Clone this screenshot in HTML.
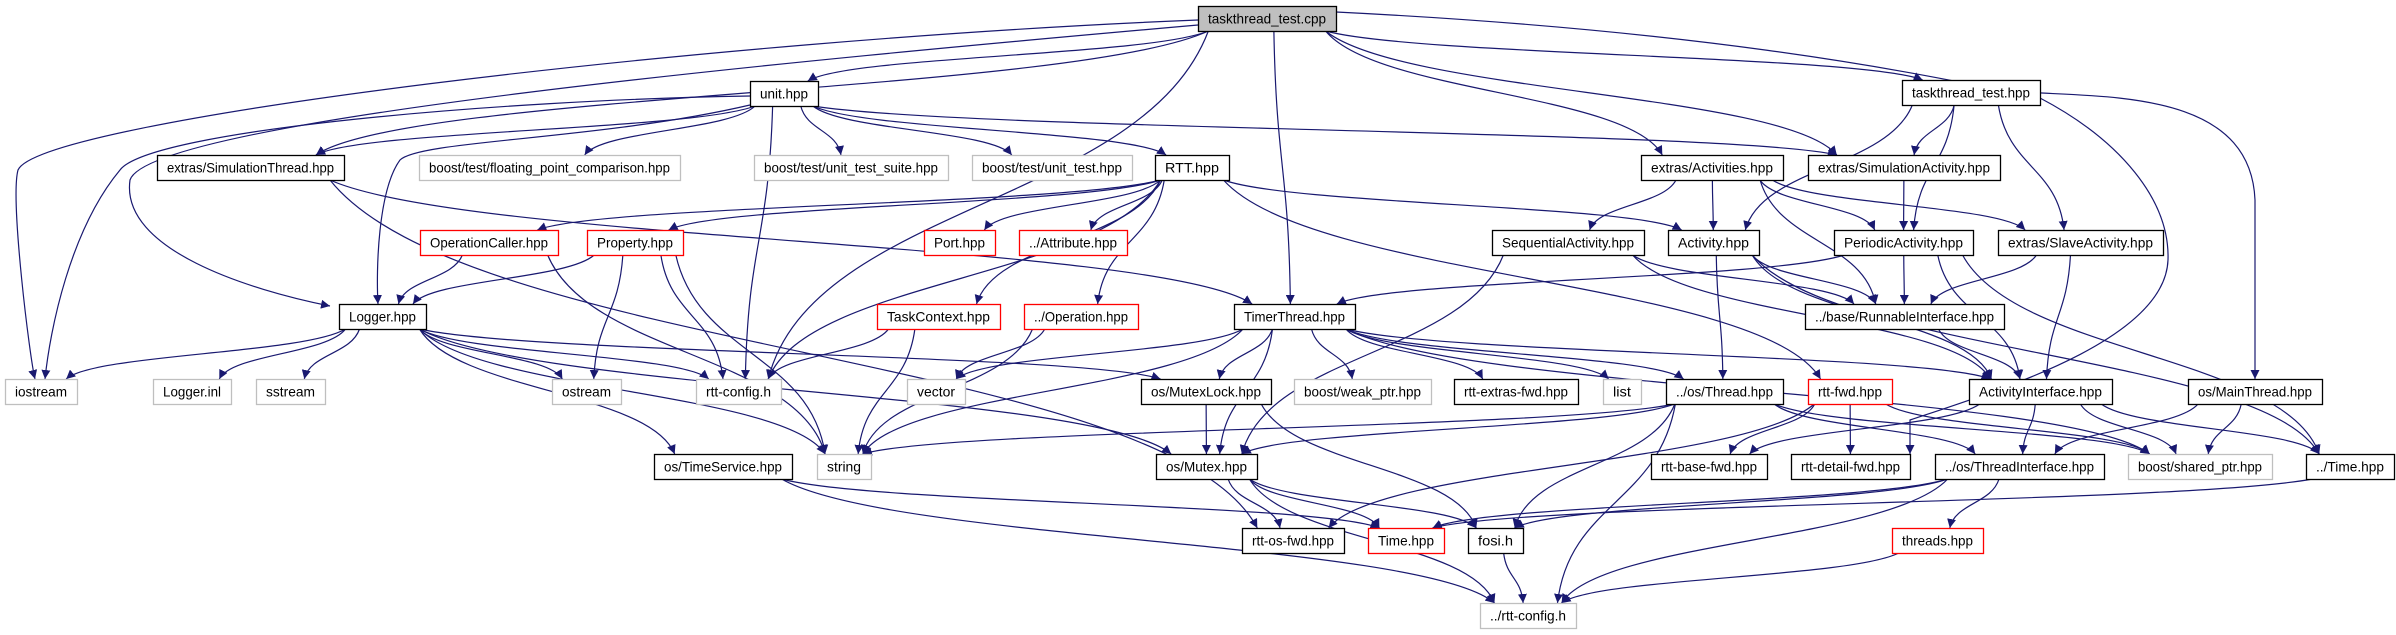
<!DOCTYPE html>
<html><head><meta charset="utf-8"><style>
html,body{margin:0;padding:0;background:#fff;}
svg{display:block;}
text{font-family:"Liberation Sans",sans-serif;font-size:14px;fill:#000;}
</style></head><body>
<svg id="g" width="2396" height="635" viewBox="0 0 2396 635" xmlns="http://www.w3.org/2000/svg">
<defs><marker id="a" viewBox="0 0 10 10" refX="10" refY="5" markerWidth="9" markerHeight="9" markerUnits="userSpaceOnUse" orient="auto"><path d="M0,0 L10,5 L0,10 z" fill="#191970"/></marker></defs>
<g id="edges" fill="none" stroke="#191970" stroke-width="1.2"></g>
<g id="nodes"></g>
</svg>
<script>
var N={
ttc:[1198,1336,6,"taskthread_test.cpp","g"],
unit:[750,818,81,"unit.hpp","b"],
tth:[1902,2040,80,"taskthread_test.hpp","b"],
simthr:[157,344,155,"extras/SimulationThread.hpp","b"],
flt:[419,680,155,"boost/test/floating_point_comparison.hpp","l"],
suite:[754,948,155,"boost/test/unit_test_suite.hpp","l"],
ut:[972,1132,155,"boost/test/unit_test.hpp","l"],
rtt:[1155,1229,155,"RTT.hpp","b"],
acts:[1641,1783,155,"extras/Activities.hpp","b"],
simact:[1808,2000,155,"extras/SimulationActivity.hpp","b"],
opc:[420,558,230,"OperationCaller.hpp","r"],
prop:[587,683,230,"Property.hpp","r"],
port:[924,995,230,"Port.hpp","r"],
attr:[1019,1127,230,"../Attribute.hpp","r"],
seq:[1492,1644,230,"SequentialActivity.hpp","b"],
act:[1668,1759,230,"Activity.hpp","b"],
per:[1834,1973,230,"PeriodicActivity.hpp","b"],
slave:[1998,2163,230,"extras/SlaveActivity.hpp","b"],
logger:[339,426,304,"Logger.hpp","b"],
taskc:[877,1000,304,"TaskContext.hpp","r"],
oper:[1024,1138,304,"../Operation.hpp","r"],
timer:[1234,1355,304,"TimerThread.hpp","b"],
runn:[1805,2004,304,"../base/RunnableInterface.hpp","b"],
iostream:[5,77,379,"iostream","l"],
linl:[153,231,379,"Logger.inl","l"],
sstream:[256,325,379,"sstream","l"],
ostream:[552,621,379,"ostream","l"],
rcfg:[696,781,379,"rtt-config.h","l"],
vector:[907,965,379,"vector","l"],
mlock:[1141,1271,379,"os/MutexLock.hpp","b"],
weak:[1294,1431,379,"boost/weak_ptr.hpp","l"],
extfwd:[1454,1578,379,"rtt-extras-fwd.hpp","b"],
list:[1603,1641,379,"list","l"],
thread:[1666,1783,379,"../os/Thread.hpp","b"],
rttfwd:[1808,1892,379,"rtt-fwd.hpp","r"],
acti:[1969,2112,379,"ActivityInterface.hpp","b"],
mainth:[2188,2322,379,"os/MainThread.hpp","b"],
tsvc:[654,792,454,"os/TimeService.hpp","b"],
string:[817,871,454,"string","l"],
mutex:[1156,1257,454,"os/Mutex.hpp","b"],
basefwd:[1651,1767,454,"rtt-base-fwd.hpp","b"],
detfwd:[1791,1910,454,"rtt-detail-fwd.hpp","b"],
thri:[1935,2104,454,"../os/ThreadInterface.hpp","b"],
shptr:[2128,2272,454,"boost/shared_ptr.hpp","l"],
time2:[2306,2394,454,"../Time.hpp","b"],
osfwd:[1242,1344,528,"rtt-os-fwd.hpp","b"],
time:[1368,1444,528,"Time.hpp","r"],
fosi:[1468,1523,528,"fosi.h","b"],
threads:[1892,1983,528,"threads.hpp","r"],
rcfg2:[1480,1576,603,"../rtt-config.h","l"]
};
var O={
"ttc>iostream":"M1198,20 C700,40 40,120 18,170 C10,200 30,360 35,379",
"ttc>logger":"M1198,25 C800,60 150,120 130,180 C120,250 250,290 330,306",
"unit>iostream":"M750,96 C500,100 150,130 120,170 C70,230 50,330 45,379",
"unit>logger":"M750,105 C600,140 420,140 400,160 C378,190 376,270 378,304",
"tth>detfwd":"M2040,98 C2120,140 2170,200 2168,260 C2165,340 2000,390 1910,420 L1910,454",
"ttc>mainth":"M1336,12 C1700,30 1900,70 2000,90 C2080,100 2250,80 2255,200 L2255,379"
};
var E="ttc>unit ttc>simthr ttc>iostream ttc>logger ttc>rcfg ttc>timer ttc>acts ttc>simact ttc>tth ttc>mainth "+
"unit>simthr unit>flt unit>suite unit>ut unit>rtt unit>iostream unit>logger unit>rcfg unit>simact "+
"simthr>timer simthr>osfwd "+
"rtt>opc rtt>prop rtt>port rtt>attr rtt>taskc rtt>oper rtt>rcfg rtt>act rtt>rttfwd "+
"acts>seq acts>act acts>runn acts>per acts>slave simact>per "+
"tth>simact tth>per tth>slave tth>act tth>detfwd "+
"opc>logger opc>string prop>logger prop>ostream prop>rcfg prop>string taskc>rcfg taskc>string oper>vector oper>string "+
"seq>runn seq>acti seq>mutex act>runn act>acti act>thread act>time2 per>timer per>runn per>acti per>time2 slave>runn slave>acti runn>acti "+
"timer>vector timer>string timer>mutex timer>mlock timer>weak timer>extfwd timer>list timer>thread timer>acti timer>shptr "+
"logger>iostream logger>linl logger>sstream logger>ostream logger>rcfg logger>string logger>tsvc logger>mutex logger>mlock "+
"mlock>mutex mlock>fosi mutex>osfwd mutex>time mutex>fosi mutex>rcfg2 tsvc>time tsvc>rcfg2 "+
"thread>string thread>mutex thread>thri thread>fosi thread>rcfg2 thread>shptr "+
"rttfwd>basefwd rttfwd>detfwd rttfwd>osfwd rttfwd>shptr acti>basefwd acti>thri acti>shptr acti>time2 "+
"mainth>thri mainth>shptr thri>threads thri>time thri>fosi thri>rcfg2 time2>time threads>rcfg2 fosi>rcfg2";
var H=25,eg=document.getElementById('edges'),ng=document.getElementById('nodes'),ns="http://www.w3.org/2000/svg";
E.split(" ").forEach(function(p){var q=p.split(">"),s=N[q[0]],t=N[q[1]];if(!s||!t)return;
var scx=(s[0]+s[1])/2,tcx=(t[0]+t[1])/2,sw=(s[1]-s[0])/2,tw=(t[1]-t[0])/2;
var sx,sy,tx,ty,d;
if(O[p]){d=O[p];}
else if(t[2]>s[2]){sx=scx+Math.max(-sw*0.85,Math.min(sw*0.85,(tcx-scx)*0.25));sy=s[2]+H;
tx=tcx+Math.max(-tw*0.7,Math.min(tw*0.7,(scx-tcx)*0.15));ty=t[2];var dy=ty-sy;
d="M"+sx+","+sy+" C"+(sx+(tx-sx)*0.15)+","+(sy+dy*0.5)+" "+(tx-(tx-sx)*0.1)+","+(ty-dy*0.5)+" "+tx+","+ty;}
else{sx=tcx<scx?s[0]:s[1];sy=s[2]+H/2;tx=tcx<scx?t[1]:t[0];ty=t[2]+H/2;d="M"+sx+","+sy+" L"+tx+","+ty;}
var e=document.createElementNS(ns,"path");e.setAttribute("d",d);e.setAttribute("marker-end","url(#a)");eg.appendChild(e);});
for(var k in N){var n=N[k],r=document.createElementNS(ns,"rect");
r.setAttribute("x",n[0]+0.5);r.setAttribute("y",n[2]+0.5);r.setAttribute("width",n[1]-n[0]);r.setAttribute("height",H);
r.setAttribute("fill",n[4]=="g"?"#bfbfbf":"#fff");r.setAttribute("stroke",n[4]=="r"?"#ff0000":n[4]=="l"?"#bfbfbf":"#000");r.setAttribute("stroke-width","1.3");ng.appendChild(r);
var t=document.createElementNS(ns,"text");t.setAttribute("x",(n[0]+n[1])/2);t.setAttribute("y",n[2]+17.5);t.setAttribute("text-anchor","middle");
t.setAttribute("textLength",Math.max(10,n[1]-n[0]-20));t.setAttribute("lengthAdjust","spacingAndGlyphs");t.textContent=n[3];ng.appendChild(t);}
</script>
</body></html>
